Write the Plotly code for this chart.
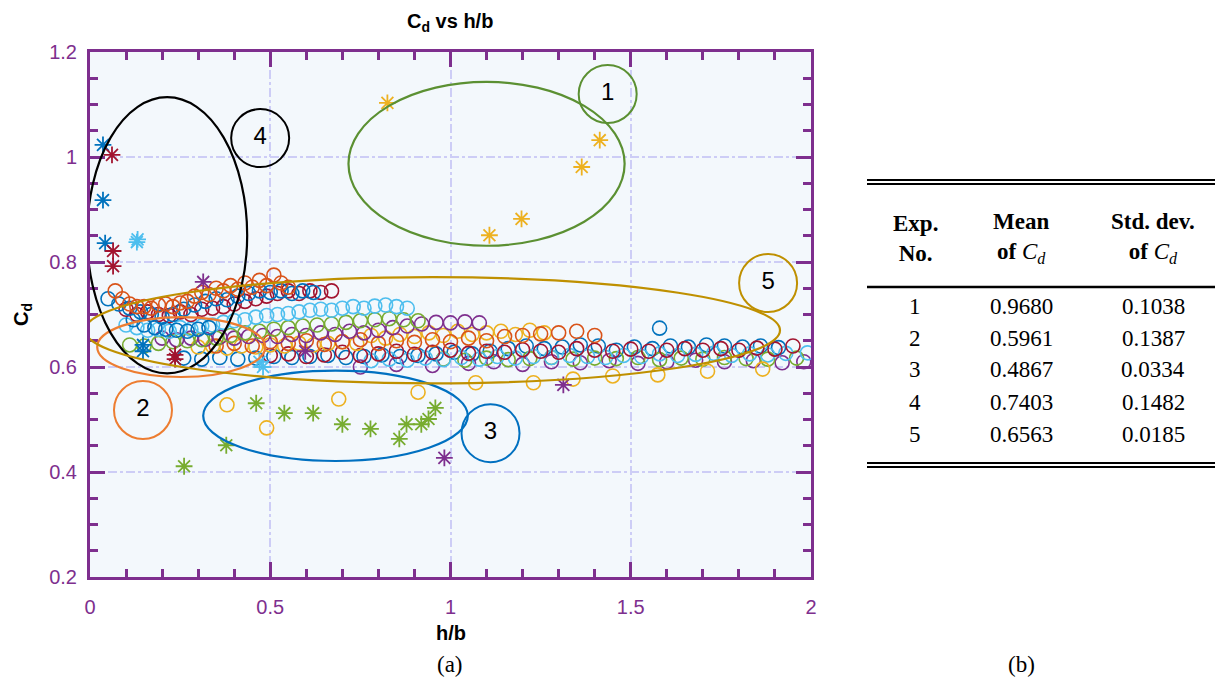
import plotly.graph_objects as go

# ---------------- data ----------------
BLUE, ORANGE, YELLOW, PURPLE, GREEN, LBLUE, DRED = (
    "#0072BD", "#D95319", "#EDB120", "#7E2F8E", "#77AC30", "#4DBEEE", "#A2142F")

orange_top_x = [0.07,0.09,0.11,0.13,0.15,0.17,0.19,0.21,0.23,0.25,0.27,0.29,0.31,0.33,0.35,0.37,0.39,0.41,0.43,0.45,0.47,0.49,0.51,0.53,0.55]
orange_top_y = [0.745,0.73,0.72,0.715,0.715,0.712,0.718,0.72,0.715,0.722,0.725,0.735,0.742,0.738,0.75,0.745,0.755,0.748,0.76,0.752,0.765,0.755,0.775,0.76,0.752]
orange_low_x = [0.35,0.4,0.45,0.5,0.55,0.6,0.65,0.7,0.75,0.8,0.85,0.9,0.95,1.0,1.05,1.1,1.15,1.2,1.25,1.3,1.35,1.4]
orange_low_y = [0.64,0.645,0.64,0.648,0.645,0.65,0.643,0.648,0.652,0.645,0.65,0.647,0.652,0.648,0.655,0.65,0.658,0.66,0.663,0.665,0.668,0.66]

red_top_x = [0.1,0.13,0.16,0.19,0.22,0.25,0.28,0.31,0.34,0.37,0.4,0.43,0.46,0.49,0.52,0.55,0.58,0.61,0.64,0.67]
red_top_y = [0.71,0.70,0.705,0.70,0.698,0.705,0.70,0.71,0.712,0.715,0.72,0.725,0.73,0.735,0.74,0.745,0.74,0.745,0.742,0.745]
red_bot_x = [0.5,0.55,0.6,0.65,0.7,0.75,0.8,0.85,0.9,0.95,1.0,1.05,1.1,1.15,1.2,1.25,1.3,1.35,1.4,1.45,1.5,1.55,1.6,1.65,1.7,1.75,1.8,1.85,1.9,1.95]
red_bot_y = [0.622,0.625,0.62,0.623,0.628,0.622,0.625,0.63,0.624,0.628,0.632,0.626,0.63,0.628,0.633,0.63,0.628,0.635,0.632,0.63,0.634,0.63,0.632,0.635,0.632,0.635,0.632,0.636,0.634,0.64]

blue_top_x = [0.05,0.08,0.11,0.14,0.17,0.2,0.23,0.26,0.29,0.32,0.35,0.38,0.41,0.44,0.47,0.5,0.53,0.56,0.59,0.62]
blue_top_y = [0.73,0.72,0.712,0.705,0.70,0.695,0.70,0.71,0.718,0.725,0.73,0.728,0.735,0.74,0.745,0.742,0.745,0.74,0.745,0.742]
blue_mid_x = [0.12,0.15,0.18,0.21,0.24,0.27,0.3,0.33]
blue_mid_y = [0.69,0.68,0.675,0.672,0.67,0.668,0.672,0.675]
blue_bot_x = [0.26,0.31,0.36,0.41,0.46,0.51,0.56,0.61,0.66,0.71,0.76,0.81,0.86,0.91,0.96,1.01,1.06,1.11,1.16,1.21,1.26,1.31,1.36,1.41,1.46,1.51,1.56,1.61,1.66,1.71,1.76,1.81,1.86,1.91]
blue_bot_y = [0.617,0.615,0.618,0.615,0.617,0.62,0.618,0.62,0.622,0.618,0.62,0.623,0.62,0.622,0.625,0.628,0.625,0.63,0.635,0.64,0.635,0.638,0.642,0.64,0.632,0.638,0.635,0.64,0.638,0.642,0.64,0.638,0.64,0.637]
blue_out_x = [1.58]
blue_out_y = [0.674]

lb_top_x = [0.1,0.13,0.16,0.19,0.22,0.25,0.28,0.31,0.34,0.37,0.4,0.43,0.46,0.49,0.52,0.55,0.58,0.61,0.64,0.67,0.7,0.73,0.76,0.79,0.82,0.85,0.88]
lb_top_y = [0.68,0.675,0.67,0.672,0.668,0.675,0.672,0.678,0.68,0.685,0.688,0.69,0.695,0.698,0.70,0.702,0.705,0.708,0.71,0.708,0.712,0.715,0.712,0.716,0.718,0.715,0.712]
lb_bot_x = [0.78,0.83,0.88,0.93,0.98,1.03,1.08,1.13,1.18,1.23,1.28,1.33,1.38,1.43,1.48,1.53,1.58,1.63,1.68,1.73,1.78,1.83,1.88,1.93,1.99]
lb_bot_y = [0.612,0.615,0.613,0.617,0.614,0.618,0.615,0.62,0.617,0.62,0.618,0.622,0.62,0.618,0.622,0.62,0.625,0.622,0.624,0.626,0.622,0.625,0.623,0.626,0.627]

gr_top_x = [0.11,0.15,0.19,0.23,0.27,0.31,0.35,0.39,0.43,0.47,0.51,0.55,0.59,0.63,0.67,0.71,0.75,0.79,0.83,0.87,0.91]
gr_top_y = [0.642,0.64,0.645,0.648,0.65,0.652,0.655,0.66,0.665,0.668,0.672,0.675,0.678,0.68,0.682,0.685,0.688,0.69,0.692,0.69,0.688]
gr_bot_x = [0.98,1.04,1.1,1.16,1.22,1.28,1.34,1.4,1.46,1.52,1.58,1.64,1.7,1.76,1.82,1.88,1.96]
gr_bot_y = [0.615,0.613,0.617,0.614,0.616,0.618,0.615,0.617,0.616,0.618,0.614,0.617,0.615,0.618,0.616,0.615,0.617]

pu_top_x = [0.2,0.24,0.28,0.32,0.36,0.4,0.44,0.48,0.52,0.56,0.6,0.64,0.68,0.72,0.76,0.8,0.84,0.88,0.92,0.96,1.0,1.04,1.08]
pu_top_y = [0.655,0.652,0.655,0.653,0.657,0.655,0.658,0.66,0.658,0.662,0.66,0.665,0.662,0.668,0.665,0.67,0.675,0.678,0.682,0.685,0.684,0.686,0.684]
pu_bot_x = [0.75,0.85,0.95,1.05,1.12,1.2,1.28,1.36,1.44,1.52,1.6,1.68,1.76,1.84,1.92,1.98]
pu_bot_y = [0.6,0.605,0.603,0.607,0.61,0.605,0.61,0.608,0.612,0.607,0.61,0.613,0.61,0.612,0.608,0.61]

ye_mid_x = [0.3,0.34,0.38,0.42,0.46,0.5,0.54,0.58,0.62,0.66,0.7,0.74,0.78,0.82,0.86,0.9,0.94,0.98,1.02,1.06,1.1,1.14,1.18,1.22,1.26]
ye_mid_y = [0.638,0.64,0.636,0.64,0.638,0.642,0.64,0.645,0.642,0.645,0.648,0.645,0.66,0.655,0.662,0.658,0.665,0.66,0.668,0.662,0.665,0.668,0.662,0.67,0.665]
ye_low_x = [0.38,0.49,0.69,0.91,1.07,1.23,1.34,1.45,1.575,1.713,1.866]
ye_low_y = [0.528,0.484,0.539,0.552,0.57,0.57,0.577,0.583,0.585,0.592,0.596]

# asterisk markers
st_yellow_x = [0.825,1.414,1.364,1.197,1.108]
st_yellow_y = [1.103,1.032,0.981,0.882,0.851]
st_blue_x = [0.036,0.036,0.042,0.147,0.147]
st_blue_y = [1.023,0.918,0.836,0.642,0.630]
st_red_x = [0.061,0.064,0.064,0.236,0.236]
st_red_y = [1.004,0.821,0.792,0.623,0.615]
st_lblue_x = [0.13,0.132,0.47,0.48]
st_lblue_y = [0.838,0.843,0.61,0.60]
st_purple_x = [0.314,0.597,1.313,0.983]
st_purple_y = [0.762,0.63,0.566,0.427]
st_green_x = [0.461,0.539,0.619,0.7,0.778,0.858,0.878,0.919,0.939,0.958,0.378,0.261]
st_green_y = [0.531,0.512,0.512,0.491,0.482,0.463,0.491,0.491,0.501,0.522,0.451,0.411]

# ellipses (groups 1..5)
ell_cx = [1.10, 0.253, 0.681, 0.214, 0.95]
ell_cy = [0.987, 0.638, 0.507, 0.851, 0.670]
ell_rx = [0.383, 0.233, 0.367, 0.222, 0.964]
ell_ry = [0.156, 0.057, 0.086, 0.263, 0.101]
ell_col = ["#5B9032", "#ED7D31", "#0070C0", "#000000", "#BF9000"]
lab_x = [1.436, 0.147, 1.111, 0.472, 1.881]
lab_y = [1.120, 0.518, 0.474, 1.036, 0.760]
lab_txt = ["1", "2", "3", "4", "5"]

# table
tab_exp = ["1", "2", "3", "4", "5"]
tab_mean = ["0.9680", "0.5961", "0.4867", "0.7403", "0.6563"]
tab_std = ["0.1038", "0.1387", "0.0334", "0.1482", "0.0185"]

# ---------------- figure ----------------
fig = go.Figure()

def circles(x, y, c):
    fig.add_trace(go.Scatter(x=x, y=y, mode="markers", showlegend=False,
        marker=dict(symbol="circle-open", size=14, color=c, line=dict(width=1.6, color=c))))

def stars(x, y, c):
    fig.add_trace(go.Scatter(x=x, y=y, mode="markers", showlegend=False,
        marker=dict(symbol="asterisk-open", size=14, color=c, line=dict(width=1.8, color=c))))

circles(blue_bot_x, blue_bot_y, BLUE)
circles(pu_bot_x, pu_bot_y, PURPLE)
circles(gr_bot_x, gr_bot_y, GREEN)
circles(lb_bot_x, lb_bot_y, LBLUE)
circles(red_bot_x, red_bot_y, DRED)
circles(ye_mid_x, ye_mid_y, YELLOW)
circles(orange_low_x, orange_low_y, ORANGE)
circles(pu_top_x, pu_top_y, PURPLE)
circles(gr_top_x, gr_top_y, GREEN)
circles(lb_top_x, lb_top_y, LBLUE)
circles(blue_mid_x, blue_mid_y, BLUE)
circles(red_top_x, red_top_y, DRED)
circles(blue_top_x, blue_top_y, BLUE)
circles(orange_top_x, orange_top_y, ORANGE)
circles(ye_low_x, ye_low_y, YELLOW)
circles(blue_out_x, blue_out_y, BLUE)

stars(st_yellow_x, st_yellow_y, YELLOW)
stars(st_blue_x, st_blue_y, BLUE)
stars(st_red_x, st_red_y, DRED)
stars(st_lblue_x, st_lblue_y, LBLUE)
stars(st_purple_x, st_purple_y, PURPLE)
stars(st_green_x, st_green_y, GREEN)

# numbered label circles
fig.add_trace(go.Scatter(x=lab_x, y=lab_y, mode="markers+text", text=lab_txt,
    textposition="middle center", showlegend=False, cliponaxis=False,
    textfont=dict(family="Arial", size=24, color="black"),
    marker=dict(symbol="circle-open", size=58, color=ell_col, line=dict(width=2, color=ell_col))))

for cx, cy, rx, ry, col in zip(ell_cx, ell_cy, ell_rx, ell_ry, ell_col):
    fig.add_shape(type="circle", xref="x", yref="y", x0=cx - rx, x1=cx + rx,
                  y0=cy - ry, y1=cy + ry, line=dict(color=col, width=2.2), layer="above")

AX = "#7E2F8E"
axis_common = dict(showline=True, linecolor=AX, linewidth=3, mirror="ticks",
                   ticks="inside", ticklen=15, tickwidth=3, tickcolor=AX,
                   showgrid=True, gridcolor="#CDCDF6", griddash="dashdot", gridwidth=1.6,
                   zeroline=False, tickfont=dict(family="Arial", size=20, color=AX))
fig.update_xaxes(range=[0, 2], dtick=0.5, tick0=0, ticklabelstandoff=10,
                 minor=dict(ticks="inside", ticklen=8, tickwidth=3, tickcolor=AX, dtick=0.1, showgrid=False),
                 **axis_common)
fig.update_yaxes(range=[0.2, 1.2], dtick=0.2, tick0=0.2, ticklabelstandoff=6,
                 minor=dict(ticks="inside", ticklen=8, tickwidth=3, tickcolor=AX, dtick=0.05, showgrid=False),
                 **axis_common)

# page offset of 8px body margin
OFF = 8
W, H = 1225 - 2 * OFF, 685 - 2 * OFF
L, R, T, B = 90, 811, 52, 577          # desired plot area in page pixels
pw, ph = R - L, B - T
def px(xp): return (xp - L) / pw
def py(yp): return (B - yp) / ph

ann = []
def note(xp, yp, text, font, **kw):
    d = dict(x=px(xp), y=py(yp), xref="paper", yref="paper", text=text, showarrow=False,
             font=font, xanchor="center", yanchor="middle")
    d.update(kw)
    ann.append(d)

AF = dict(family="Arial", size=20, color="black")
note(451, 633, "<b>h/b</b>", AF)
note(22, 315, "<b>C<sub>d</sub></b>", AF, textangle=-90)
note(450, 23, "<b>C<sub>d</sub> vs h/b</b>", dict(family="Arial", size=20, color="black"))
SF = dict(family="Liberation Serif", size=23, color="black")
note(450, 664, "(a)", SF)
note(1021, 664, "(b)", SF)

col_x = [915, 1021, 1153]
hdr = ["<b>Exp.</b><br><b>No.</b>", "<b>Mean</b><br><b>of </b><i>C</i><sub><i>d</i></sub>",
       "<b>Std. dev.</b><br><b>of </b><i>C</i><sub><i>d</i></sub>"]
for cxp, h in zip(col_x, hdr):
    note(cxp, 238, h, SF, align="center")
row_y = [306, 338, 370, 402, 434]
for i, ry in enumerate(row_y):
    for cxp, val in zip(col_x, [tab_exp[i], tab_mean[i], tab_std[i]]):
        note(cxp, ry, val, SF)
fig.update_layout(annotations=ann)

for yl, wdt in [(180, 2), (184, 2), (287, 2.5), (463, 2), (467, 2)]:
    fig.add_shape(type="line", xref="paper", yref="paper", x0=px(867), x1=px(1215),
                  y0=py(yl), y1=py(yl), line=dict(color="black", width=wdt))

fig.update_layout(width=W, height=H,
                  margin=dict(l=L - OFF, r=W - (R - OFF), t=T - OFF, b=H - (B - OFF), pad=0),
                  plot_bgcolor="#F3F8FC", paper_bgcolor="white", showlegend=False)

fig.write_html("out.html")
